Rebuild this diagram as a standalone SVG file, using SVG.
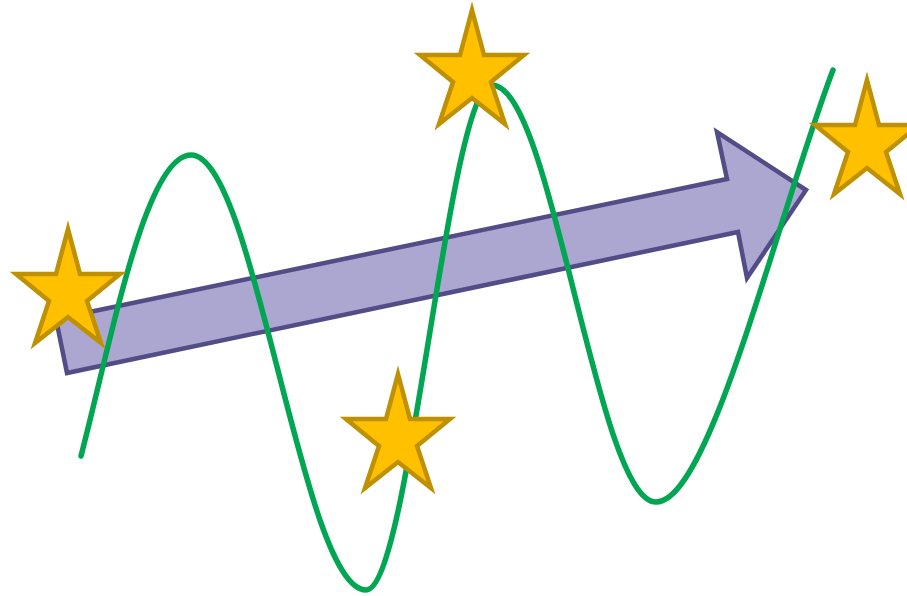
<svg xmlns="http://www.w3.org/2000/svg" xmlns:xlink="http://www.w3.org/1999/xlink" width="907" height="596" viewBox="0 0 907 596">
  <style>
    .arrow { fill: #ABA7D0; stroke: #524C87; stroke-width: 4.5; stroke-linejoin: miter; }
    .wave { fill: none; stroke: #00A651; stroke-width: 5.5; stroke-linecap: round; }
    .star { fill: #FFC000; stroke: #BF9000; stroke-width: 4.5; stroke-linejoin: miter; stroke-miterlimit: 10; }
  </style>
  <defs>
    <polygon id="star" class="star" points="0,0 12,45 52,45 19,72 33,114 0,88 -33,114 -19,72 -52,45 -12,45"/>
  </defs>
  <rect width="907" height="596" fill="#FFFFFF"/>
  <g id="arrow">
    <polygon class="arrow" points="56,319 727,179 717,132 806,190 747,278 738,232 67,373"/>
  </g>
  <g id="wave">
    <path class="wave" d="M81,456 C112,336 146,155 191,155 C255,155 302,590 366,590 C410,590 448,85 492,85 C552,85 597,502 656,502 C710,502 776,220 833,70"/>
  </g>
  <g id="stars">
    <use id="star1" xlink:href="#star" href="#star" x="68" y="229"/>
    <use id="star2" xlink:href="#star" href="#star" x="472" y="10"/>
    <use id="star3" xlink:href="#star" href="#star" x="398" y="374"/>
    <use id="star4" xlink:href="#star" href="#star" x="867" y="80"/>
  </g>
</svg>
